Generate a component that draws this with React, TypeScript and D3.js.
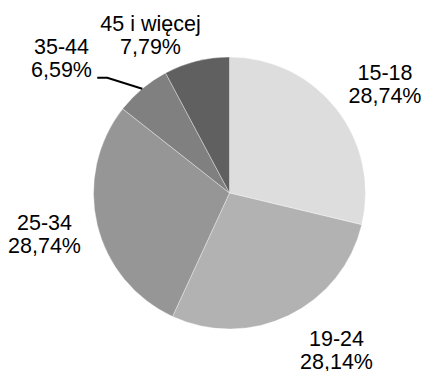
import React from "react";
import * as d3 from "d3";

const categories = ["15-18", "19-24", "25-34", "35-44", "45 i więcej"];
const values = [28.74, 28.14, 28.74, 6.59, 7.79];
const valueLabels = ["28,74%", "28,14%", "28,74%", "6,59%", "7,79%"];
const colors = ["#dddddd", "#b2b2b2", "#969696", "#808080", "#606060"];

const W = 421;
const H = 371;
const cx = 229.5;
const cy = 193;
const R = 136;

// label anchor (relative to pie center): [dx, baselineDy of first line]
const labelPos: [number, number][] = [
  [155.5, -113],
  [107, 153],
  [-185, 37],
  [-168, -139],
  [-79, -162],
];

export default function App() {
  const pie = d3.pie<number>().sort(null).value((d) => d)(values);
  const arc = d3.arc<d3.PieArcDatum<number>>().innerRadius(0).outerRadius(R);
  const font = "'Liberation Sans', Arial, sans-serif";

  // leader line for 35-44
  const s = pie[3];
  const mid = (s.startAngle + s.endAngle) / 2;
  const px = Math.sin(mid) * R;
  const py = -Math.cos(mid) * R;

  return (
    <svg width={W} height={H} style={{ position: "absolute", left: 0, top: 0 }}>
      <rect width={W} height={H} fill="#fff" />
      <g transform={`translate(${cx},${cy})`}>
        {pie.map((p, i) => (
          <path key={i} d={arc(p) || ""} fill={colors[i]} stroke="#ffffff" strokeWidth={0.6} strokeOpacity={0.6} />
        ))}
        <polyline
          points={`${px},${py} ${px - 35},${py - 11} ${px - 45},${py - 11}`}
          fill="none"
          stroke="#000"
          strokeWidth={2}
        />
        {categories.map((c, i) => (
          <text key={c} fontFamily={font} fontSize={21.5} fill="#000" textAnchor="middle">
            <tspan x={labelPos[i][0]} y={labelPos[i][1]}>{c}</tspan>
            <tspan x={labelPos[i][0]} y={labelPos[i][1] + 23}>{valueLabels[i]}</tspan>
          </text>
        ))}
      </g>
    </svg>
  );
}
